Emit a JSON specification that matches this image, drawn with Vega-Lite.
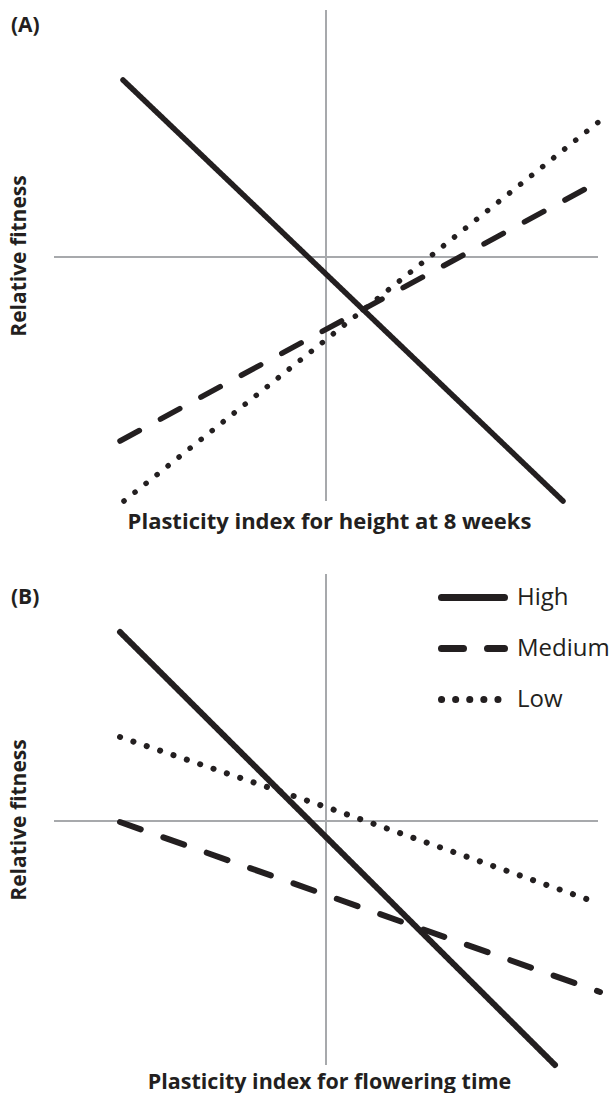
{
  "$schema": "https://vega.github.io/schema/vega-lite/v6.json",
  "padding": {"left": 8, "top": 9, "right": 0, "bottom": 0},
  "background": "white",
  "spacing": 30,
  "config": {
    "view": {"stroke": null},
    "font": "Open Sans",
    "axis": {"grid": false, "ticks": false, "labels": false, "domain": false, "titleFont": "Open Sans", "titleFontWeight": "bold", "titleColor": "#231f20"},
    "axisX": {"titlePadding": 10, "titleFontSize": 22},
    "axisY": {"titlePadding": 25, "titleFontSize": 21}
  },
  "datasets": {
    "linesA": [
      {"series": "High", "x": -2.03, "y": 1.77},
      {"series": "High", "x": -1.36, "y": 1.13},
      {"series": "High", "x": -0.69, "y": 0.49},
      {"series": "High", "x": 2.37, "y": -2.44},
      {"series": "Medium", "x": -2.06, "y": -1.84},
      {"series": "Medium", "x": 2.74, "y": 0.76},
      {"series": "Low", "x": -2.02, "y": -2.44},
      {"series": "Low", "x": 2.75, "y": 1.37}
    ],
    "linesB": [
      {"series": "High", "x": -2.06, "y": 1.89},
      {"series": "High", "x": 2.29, "y": -2.44},
      {"series": "Medium", "x": -2.06, "y": -0.01},
      {"series": "Medium", "x": 2.74, "y": -1.71},
      {"series": "Low", "x": -2.06, "y": 0.84},
      {"series": "Low", "x": 0.0, "y": 0.14},
      {"series": "Low", "x": 2.69, "y": -0.81}
    ],
    "hrule": [{"x": -2.72, "x2": 2.72, "y": 0}],
    "vrule": [{"x": 0, "y": -2.44, "y2": 2.47}]
  },
  "resolve": {"scale": {"strokeDash": "independent"}, "legend": {"strokeDash": "independent"}},
  "vconcat": [
    {
      "width": 550,
      "height": 491,
      "title": {"text": "(A)", "anchor": "start", "frame": "bounds", "offset": -44, "dx": 3, "baseline": "alphabetic", "fontSize": 21, "fontWeight": "bold", "font": "Open Sans", "color": "#231f20"},
      "encoding": {
        "x": {"field": "x", "type": "quantitative", "scale": {"domain": [-2.72, 2.78], "nice": false, "zero": false}, "axis": {"title": "Plasticity index for height at 8 weeks"}},
        "y": {"field": "y", "type": "quantitative", "scale": {"domain": [-2.44, 2.47], "nice": false, "zero": false}, "axis": {"title": "Relative fitness"}}
      },
      "layer": [
        {"data": {"name": "hrule"}, "mark": {"type": "rule", "color": "#a7a9ac", "strokeWidth": 2}, "encoding": {"x2": {"field": "x2"}}},
        {"data": {"name": "vrule"}, "mark": {"type": "rule", "color": "#a7a9ac", "strokeWidth": 2}, "encoding": {"y2": {"field": "y2"}}},
        {
          "data": {"name": "linesA"},
          "mark": {"type": "line", "color": "#231f20", "strokeWidth": 5.5, "strokeCap": "round", "strokeJoin": "round"},
          "encoding": {
            "strokeDash": {"field": "series", "type": "nominal", "scale": {"domain": ["High", "Medium", "Low"], "range": [[1, 0], [22, 24], [0.1, 14]]}, "legend": null}
          }
        }
      ]
    },
    {
      "width": 550,
      "height": 491,
      "title": {"text": "(B)", "anchor": "start", "frame": "bounds", "offset": -62, "dx": 3, "baseline": "alphabetic", "fontSize": 21, "fontWeight": "bold", "font": "Open Sans", "color": "#231f20"},
      "encoding": {
        "x": {"field": "x", "type": "quantitative", "scale": {"domain": [-2.72, 2.78], "nice": false, "zero": false}, "axis": {"title": "Plasticity index for flowering time", "titlePadding": 6, "titleFontSize": 21.5}},
        "y": {"field": "y", "type": "quantitative", "scale": {"domain": [-2.44, 2.47], "nice": false, "zero": false}, "axis": {"title": "Relative fitness"}}
      },
      "layer": [
        {"data": {"name": "hrule"}, "mark": {"type": "rule", "color": "#a7a9ac", "strokeWidth": 2}, "encoding": {"x2": {"field": "x2"}}},
        {"data": {"name": "vrule"}, "mark": {"type": "rule", "color": "#a7a9ac", "strokeWidth": 2}, "encoding": {"y2": {"field": "y2"}}},
        {
          "data": {"name": "linesB"},
          "mark": {"type": "line", "color": "#231f20", "strokeWidth": 6, "strokeCap": "round", "strokeJoin": "round"},
          "encoding": {
            "strokeDash": {
              "field": "series", "type": "nominal",
              "scale": {"domain": ["High", "Medium", "Low"], "range": [[1, 0], [22, 24], [0.1, 14]]},
              "legend": {
                "title": null, "orient": "none", "legendX": 384, "legendY": -11.5,
                "symbolType": "stroke", "symbolSize": 3969, "symbolStrokeWidth": 7, "symbolStrokeColor": "#231f20",
                "labelFont": "Open Sans", "labelFontSize": 24, "labelColor": "#231f20", "labelOffset": 9,
                "padding": 0,
                "encode": {"symbols": {"update": {"strokeCap": {"value": "round"}}}}
              }
            }
          }
        }
      ]
    }
  ]
}
